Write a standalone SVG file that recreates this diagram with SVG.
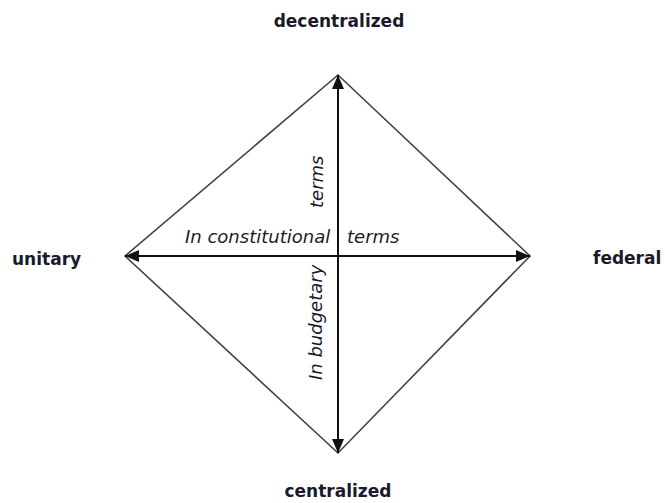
<svg xmlns="http://www.w3.org/2000/svg" width="665" height="503" viewBox="0 0 665 503">
<style>
.lbl{font-family:"DejaVu Sans",Verdana,sans-serif;font-weight:bold;font-size:17px;fill:#1a1a2a}
.it{font-family:"DejaVu Sans",Verdana,sans-serif;font-style:italic;font-size:18px;fill:#1a1a2a}
.edge{stroke:#444;stroke-width:1.6;fill:none}
.axis{stroke:#111;stroke-width:2;fill:none;marker-start:url(#ah);marker-end:url(#ah)}
</style>
<defs>
<marker id="ah" viewBox="0 0 14 12" refX="14" refY="6" markerWidth="14" markerHeight="12" markerUnits="userSpaceOnUse" orient="auto-start-reverse">
<path d="M0,0 L14,6 L0,12 Z" fill="#111"/>
</marker>
</defs>
<rect width="665" height="503" fill="#fff"/>
<g id="connectors">
<polygon class="edge" points="338,75 530,256 338,453 125,256"/>
<line class="axis" x1="125" y1="256" x2="530" y2="256"/>
<line class="axis" x1="338" y1="453" x2="338" y2="75"/>
</g>
<g id="decentralized"><text class="lbl" x="339" y="27" text-anchor="middle">decentralized</text></g>
<g id="centralized"><text class="lbl" x="338" y="497" text-anchor="middle">centralized</text></g>
<g id="unitary"><text class="lbl" x="12" y="265">unitary</text></g>
<g id="federal"><text class="lbl" x="593" y="264">federal</text></g>
<g id="constitutional">
<text class="it" x="185" y="243">In constitutional</text>
<text class="it" x="347" y="243">terms</text>
</g>
<g id="budgetary">
<text class="it" transform="translate(323,208) rotate(-90)">terms</text>
<text class="it" transform="translate(322,380) rotate(-90)">In budgetary</text>
</g>
</svg>
